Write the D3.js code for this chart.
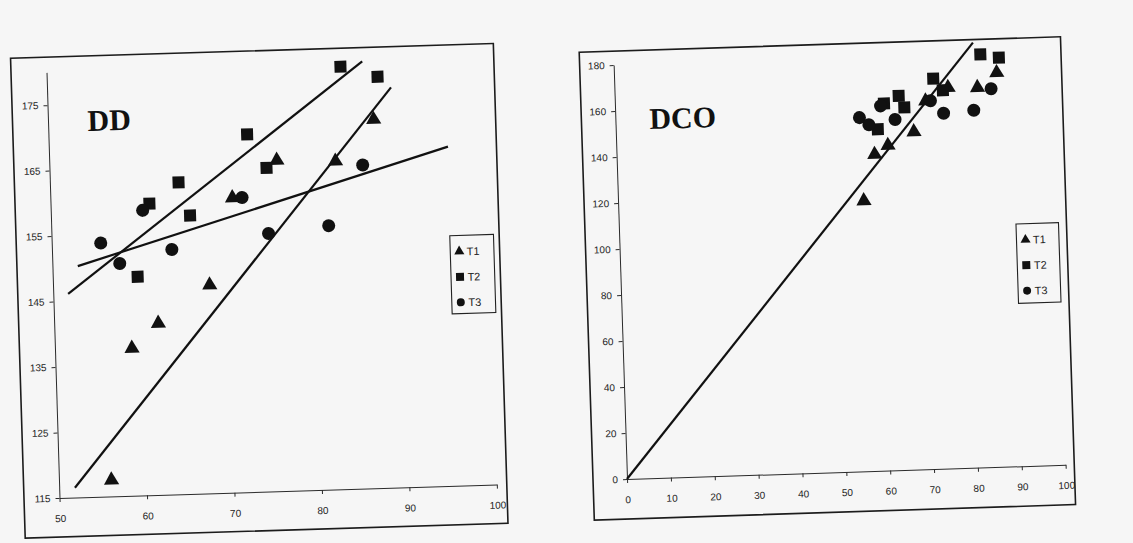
<!DOCTYPE html>
<html>
<head>
<meta charset="utf-8">
<script src="https://cdn.jsdelivr.net/npm/d3@7"></script>
<style>
  html, body { margin: 0; padding: 0; background: #f6f6f6; }
  svg { display: block; }
  .axis path, .axis line { stroke: #2a2a2a; stroke-width: 1; }
  .axis text { font-family: "Liberation Sans", Arial, sans-serif; font-size: 10px; fill: #222; }
</style>
</head>
<body>
<svg id="chart" width="1133" height="543"></svg>
<script>
// Measurements shared by both panels (x, y per subject)
const seriesNames = ["T1", "T2", "T3"];
const t1X = [56.0, 58.8, 61.9, 67.9, 70.8, 76.0, 82.7, 87.2];
const t1Y = [117.5, 137.5, 141.2, 146.8, 160.0, 165.5, 165.1, 171.3];
const t2X = [59.7, 61.3, 64.7, 65.9, 72.7, 74.8, 83.6, 87.8];
const t2Y = [148.4, 159.5, 162.6, 157.5, 169.6, 164.4, 179.5, 177.8];
const t3X = [55.6, 57.7, 60.5, 63.7, 71.9, 74.8, 81.7, 85.8];
const t3Y = [153.7, 150.5, 158.5, 152.4, 160.0, 154.4, 155.3, 164.4];

// Trend lines as [x, y] end points
const ddLineT1 = [[51.8, 116.5], [89.3, 176.1]];
const ddLineT2 = [[51.7, 146.1], [86.1, 180.2]];
const ddLineT3 = [[52.9, 150.3], [95.6, 166.8]];
const dcoLine  = [[0, 0], [82, 184.7]];

// Axis ticks
const ddXTicks  = [50, 60, 70, 80, 90, 100];
const ddYTicks  = [115, 125, 135, 145, 155, 165, 175];
const dcoXTicks = [0, 10, 20, 30, 40, 50, 60, 70, 80, 90, 100];
const dcoYTicks = [0, 20, 40, 60, 80, 100, 120, 140, 160, 180];

const seriesX = [t1X, t2X, t3X];
const seriesY = [t1Y, t2Y, t3Y];
const symbolTypes = [d3.symbolTriangle, d3.symbolSquare, d3.symbolCircle];
const symbolSizes = [100, 144, 133];
const legendSizes = [44, 64, 50];
const ink = "#111";

const svg = d3.select("#chart");

function drawPanel(cfg) {
  const g = svg.append("g")
    .attr("transform", `rotate(${-cfg.tilt},${cfg.ox},${cfg.oy})`);

  // outer chart frame
  g.append("rect")
    .attr("x", cfg.frame[0]).attr("y", cfg.frame[1])
    .attr("width", cfg.frame[2] - cfg.frame[0])
    .attr("height", cfg.frame[3] - cfg.frame[1])
    .attr("fill", "none").attr("stroke", "#1c1c1c").attr("stroke-width", 1.6);

  const x = d3.scaleLinear().domain(cfg.xDomain).range([cfg.ox, cfg.ox + cfg.xLen]);
  const y = d3.scaleLinear().domain(cfg.yDomain).range([cfg.oy, cfg.oy - cfg.yLen]);

  g.append("g").attr("class", "axis")
    .attr("transform", `translate(0,${cfg.oy})`)
    .call(d3.axisBottom(x).tickValues(cfg.xTicks).tickSize(4).tickSizeOuter(0).tickPadding(13));

  g.append("g").attr("class", "axis")
    .attr("transform", `translate(${cfg.ox},0)`)
    .call(d3.axisLeft(y).tickValues(cfg.yTicks).tickSize(4).tickSizeOuter(0).tickPadding(5));

  // trend lines
  g.selectAll("line.trend").data(cfg.lines).join("line")
    .attr("class", "trend")
    .attr("x1", d => x(d[0][0])).attr("y1", d => y(d[0][1]))
    .attr("x2", d => x(d[1][0])).attr("y2", d => y(d[1][1]))
    .attr("stroke", ink).attr("stroke-width", 2.2);

  // markers
  seriesNames.forEach((name, i) => {
    const pts = d3.zip(seriesX[i], seriesY[i]);
    g.selectAll(null).data(pts).join("path")
      .attr("d", d3.symbol(symbolTypes[i], symbolSizes[i]))
      .attr("transform", d => `translate(${x(d[0])},${y(d[1])})`)
      .attr("fill", ink);
  });

  // panel title
  g.append("text")
    .attr("x", cfg.title[1]).attr("y", cfg.title[2])
    .attr("font-family", "'Liberation Serif', 'Times New Roman', serif")
    .attr("font-weight", "bold").attr("font-size", 30)
    .attr("fill", ink)
    .text(cfg.title[0]);

  // legend
  const L = cfg.legend;
  const lg = g.append("g").attr("transform", `translate(${L.x},${L.y})`);
  lg.append("rect").attr("width", L.w).attr("height", L.h)
    .attr("fill", "none").attr("stroke", "#222").attr("stroke-width", 1.1);
  seriesNames.forEach((name, i) => {
    const yy = 16 + i * 25.5;
    lg.append("path")
      .attr("d", d3.symbol(symbolTypes[i], legendSizes[i]))
      .attr("transform", `translate(9,${yy})`)
      .attr("fill", ink);
    lg.append("text")
      .attr("x", 16.5).attr("y", yy)
      .attr("dominant-baseline", "central")
      .attr("font-family", "'Liberation Sans', Arial, sans-serif")
      .attr("font-size", 11).attr("fill", "#222")
      .text(name);
  });
}

drawPanel({
  tilt: 1.75, ox: 59.5, oy: 498,
  xDomain: [50, 100], xLen: 437.5,
  yDomain: [115, 180], yLen: 425.8,
  xTicks: ddXTicks, yTicks: ddYTicks,
  frame: [24, 57, 507, 537],
  lines: [ddLineT1, ddLineT2, ddLineT3],
  title: ["DD", 99, 132],
  legend: { x: 457.6, y: 247.7, w: 43.7, h: 78.3 }
});

drawPanel({
  tilt: 1.85, ox: 627, oy: 479,
  xDomain: [0, 100], xLen: 438.8,
  yDomain: [0, 180], yLen: 414.2,
  xTicks: dcoXTicks, yTicks: dcoYTicks,
  frame: [593, 51, 1074.5, 519],
  lines: [dcoLine],
  title: ["DCO", 661, 130],
  legend: { x: 1024, y: 236.7, w: 42.5, h: 79.4 }
});
</script>
</body>
</html>
